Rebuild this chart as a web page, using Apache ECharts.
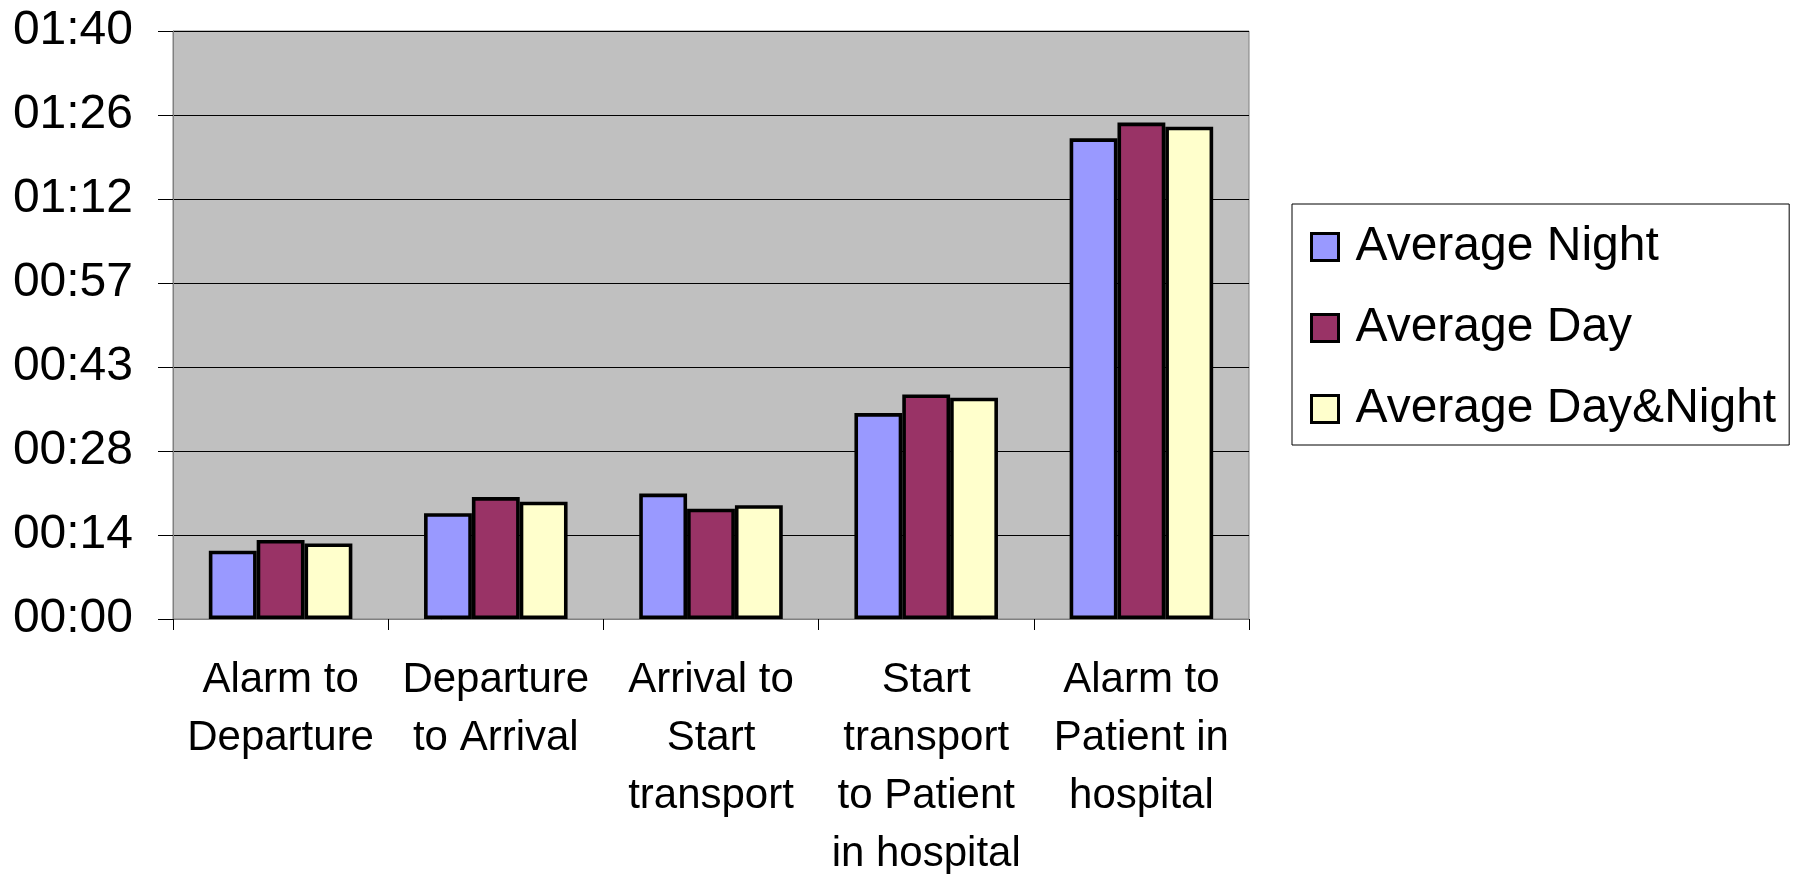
<!DOCTYPE html>
<html>
<head>
<meta charset="utf-8">
<script src="https://cdn.jsdelivr.net/npm/echarts@6/dist/echarts.min.js"></script>
<style>
html,body{margin:0;padding:0;background:#fff;}
#chart{width:1807px;height:874px;}
</style>
</head>
<body>
<div id="chart"></div>
<script>
// Categories (x axis)
const categories = [
  "Alarm to\nDeparture",
  "Departure\nto Arrival",
  "Arrival to\nStart\ntransport",
  "Start\ntransport\nto Patient\nin hospital",
  "Alarm to\nPatient in\nhospital"
];
// Values in minutes
const averageNight = [11.7, 18.15, 21.5, 35.3, 82.4];
const averageDay = [13.55, 20.9, 18.9, 38.5, 85.1];
const averageDayNight = [12.95, 20.1, 19.5, 37.95, 84.4];
const seriesNames = ["Average Night", "Average Day", "Average Day&Night"];
// Y axis tick labels (hh:mm), axis 0..100.8 min every 14.4 min
const yTickLabels = ["00:00", "00:14", "00:28", "00:43", "00:57", "01:12", "01:26", "01:40"];
const yMin = 0, yMax = 100.8, yInterval = 14.4;

const FONT = "'Liberation Sans', Arial, sans-serif";
const chart = echarts.init(document.getElementById('chart'), null, {renderer: 'canvas'});

function barSeries(name, data, color) {
  return {
    name: name,
    type: 'bar',
    data: data,
    barGap: '0%',
    barCategoryGap: '33.3%',
    itemStyle: {color: color, borderColor: '#000', borderWidth: 3.6},
    emphasis: {disabled: true},
    animation: false
  };
}

chart.setOption({
  animation: false,
  backgroundColor: '#ffffff',
  grid: {
    left: 173, right: 558, top: 31, bottom: 255,
    show: true, backgroundColor: '#C0C0C0', borderColor: '#808080', borderWidth: 1,
    containLabel: false,
    outerBoundsMode: 'none'
  },
  legend: {
    orient: 'vertical',
    left: 1292, top: 204,
    padding: [16, 13, 9, 18],
    backgroundColor: '#ffffff',
    borderColor: '#000000',
    borderWidth: 1,
    borderRadius: 0,
    itemWidth: 27, itemHeight: 27,
    itemGap: 27,
    icon: 'rect',
    itemStyle: {borderColor: '#000', borderWidth: 3},
    textStyle: {fontFamily: FONT, fontSize: 48, color: '#000', lineHeight: 54, padding: [0, 0, 0, 12]},
    data: seriesNames
  },
  xAxis: {
    type: 'category',
    data: categories,
    axisLine: {show: true, lineStyle: {color: '#808080', width: 1}},
    axisTick: {show: true, length: 11, lineStyle: {color: '#000', width: 1}, alignWithLabel: false},
    axisLabel: {fontFamily: FONT, fontSize: 42, color: '#000', lineHeight: 58, margin: 32, interval: 0, align: 'center'},
    splitLine: {show: false}
  },
  yAxis: {
    type: 'value',
    min: yMin, max: yMax, interval: yInterval,
    axisLine: {show: true, lineStyle: {color: '#808080', width: 1}},
    axisTick: {show: true, length: 15, inside: false, lineStyle: {color: '#000', width: 1}},
    axisLabel: {
      fontFamily: FONT, fontSize: 48, color: '#000', margin: 40,
      formatter: function (v, i) { return yTickLabels[i]; }
    },
    splitLine: {show: true, lineStyle: {color: '#000', width: 1}}
  },
  series: [
    barSeries(seriesNames[0], averageNight, '#9999FF'),
    barSeries(seriesNames[1], averageDay, '#993366'),
    barSeries(seriesNames[2], averageDayNight, '#FFFFCC')
  ]
});
</script>
</body>
</html>
